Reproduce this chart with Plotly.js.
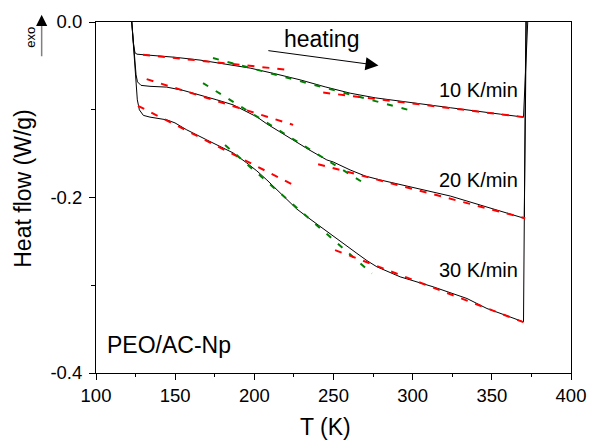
<!DOCTYPE html>
<html>
<head>
<meta charset="utf-8">
<script src="https://cdn.plot.ly/plotly-3.0.1.min.js"></script>
<style>html,body{margin:0;padding:0;background:#fff;}</style>
</head>
<body>
<div id="chart" style="width:590px;height:442px;"></div>
<script>
// ---- data (T in K, heat flow in W/g) ----
const curve10T = [122.6, 123.6, 124.6, 125.9, 134.1, 149.9, 165.7, 181.5, 197.3, 213.1, 228.9, 244.7, 260.5, 276.3, 292.1, 323.7, 355.3, 370.0, 372.8];
const curve10H = [0.0, -0.0240, -0.0350, -0.0367, -0.0379, -0.0402, -0.0434, -0.0476, -0.0525, -0.0590, -0.0659, -0.0739, -0.0811, -0.0864, -0.0903, -0.0977, -0.1050, -0.1084, 0.005];

const curve20T = [122.6, 123.6, 124.6, 125.3, 126.2, 128.4, 134.1, 144.7, 155.0, 165.7, 176.3, 186.6, 195.2, 201.6, 207.9, 218.2, 228.9, 235.2, 245.8, 249.8, 260.5, 270.0, 279.5, 292.1, 313.0, 323.7, 342.7, 355.3, 370.5, 371.8];
const curve20H = [0.0, -0.0240, -0.0430, -0.0602, -0.0682, -0.0722, -0.0733, -0.0742, -0.0779, -0.0830, -0.0887, -0.0944, -0.1021, -0.1081, -0.1161, -0.1275, -0.1401, -0.1463, -0.1572, -0.1595, -0.1686, -0.1755, -0.1800, -0.1852, -0.1934, -0.1983, -0.2086, -0.2154, -0.2237, 0.005];

const curve30T = [122.6, 123.6, 124.6, 125.3, 126.1, 127.4, 129.9, 134.1, 140.4, 144.7, 149.9, 157.3, 170.0, 178.4, 186.6, 195.2, 201.6, 207.9, 214.2, 220.5, 226.8, 233.2, 241.6, 249.8, 257.4, 264.8, 271.1, 277.4, 292.1, 313.0, 334.3, 346.9, 358.5, 370.0, 371.5];
const curve30H = [0.0, -0.0240, -0.0430, -0.0602, -0.0887, -0.1001, -0.1064, -0.1084, -0.1098, -0.1115, -0.1150, -0.1229, -0.1344, -0.1418, -0.1492, -0.1606, -0.1697, -0.1800, -0.1914, -0.2029, -0.2131, -0.2219, -0.2331, -0.2447, -0.2548, -0.2637, -0.2719, -0.2790, -0.2904, -0.3018, -0.3151, -0.3265, -0.3341, -0.3418, 0.005];

// tangent (onset) lines
const fit10RedAT = [129.7, 221.3], fit10RedAH = [-0.0373, -0.0545];
const fit10GreenT = [173.9, 297.2], fit10GreenH = [-0.0411, -0.1001];
const fit10RedBT = [243.5, 370.0], fit10RedBH = [-0.0804, -0.1084];
const fit20RedAT = [132.0, 224.5], fit20RedAH = [-0.0651, -0.1172];
const fit20GreenT = [167.6, 271.1], fit20GreenH = [-0.0696, -0.1857];
const fit20RedBT = [240.3, 371.1], fit20RedBH = [-0.1621, -0.2237];
const fit30RedAT = [126.5, 226.8], fit30RedAH = [-0.0955, -0.1877];
const fit30GreenT = [181.5, 274.2], fit30GreenH = [-0.1401, -0.2865];
const fit30RedBT = [251.0, 369.9], fit30RedBH = [-0.2599, -0.3421];

const xTicks = [100, 150, 200, 250, 300, 350, 400];
const yTicks = [0.0, -0.2, -0.4];
const yTickText = ['0.0', '-0.2', '-0.4'];
const rateLabels = ['10 K/min', '20 K/min', '30 K/min'];
const rateLabelH = [-0.0779, -0.1798, -0.2825];

const FONT = 'Liberation Sans, Arial, Helvetica, sans-serif';

function curve(x, y) {
  return {x: x, y: y, type: 'scatter', mode: 'lines', line: {color: '#000000', width: 1}, hoverinfo: 'skip'};
}
function fit(x, y, color, dash) {
  return {x: x, y: y, type: 'scatter', mode: 'lines', line: {color: color, width: 2, dash: dash}, hoverinfo: 'skip'};
}
const RED = '#ff0000', GREEN = '#008000';
const RDASH = '7px,8px', GDASH = '6px,9px';

const traces = [
  curve(curve10T, curve10H), curve(curve20T, curve20H), curve(curve30T, curve30H),
  fit(fit10RedAT, fit10RedAH, RED, RDASH), fit(fit10GreenT, fit10GreenH, GREEN, GDASH), fit(fit10RedBT, fit10RedBH, RED, RDASH),
  fit(fit20RedAT, fit20RedAH, RED, RDASH), fit(fit20GreenT, fit20GreenH, GREEN, GDASH), fit(fit20RedBT, fit20RedBH, RED, RDASH),
  fit(fit30RedAT, fit30RedAH, RED, RDASH), fit(fit30GreenT, fit30GreenH, GREEN, GDASH), fit(fit30RedBT, fit30RedBH, RED, RDASH)
];

const annotations = [];
rateLabels.forEach(function (t, i) {
  annotations.push({x: 368.0, y: rateLabelH[i], xref: 'x', yref: 'y', text: t, showarrow: false,
    xanchor: 'right', yanchor: 'middle', font: {family: FONT, size: 20, color: '#000'}});
});
annotations.push({x: 217.5, y: -0.0195, xref: 'x', yref: 'y', text: 'heating', showarrow: false,
  xanchor: 'left', yanchor: 'middle', font: {family: FONT, size: 23, color: '#000'}});
annotations.push({x: 278.4, y: -0.0495, ax: 207.9, ay: -0.0324, xref: 'x', yref: 'y', axref: 'x', ayref: 'y',
  text: '', showarrow: true, arrowhead: 2, arrowsize: 2.6, arrowwidth: 1, arrowcolor: '#000'});
annotations.push({x: 105.7, y: -0.3676, xref: 'x', yref: 'y', text: 'PEO/AC-Np', showarrow: false,
  xanchor: 'left', yanchor: 'middle', font: {family: FONT, size: 23, color: '#000'}});
// exo indicator
annotations.push({x: -0.138, y: 0.9566, xref: 'paper', yref: 'paper', text: 'exo', textangle: -90, showarrow: false,
  xanchor: 'center', yanchor: 'middle', font: {family: FONT, size: 13, color: '#000'}});
annotations.push({x: -0.1144, y: 0.992, xref: 'paper', yref: 'paper', ax: 0, ay: 33, text: '', showarrow: true,
  arrowhead: 0, arrowwidth: 1.5, arrowcolor: '#808080'});
annotations.push({x: -0.1144, y: 1.0208, xref: 'paper', yref: 'paper', ax: 0, ay: 11, text: '', showarrow: true,
  arrowhead: 2, arrowsize: 1.5, arrowwidth: 1.5, arrowcolor: '#000'});
// axis titles
annotations.push({x: -0.1527, y: 0.5263, xref: 'paper', yref: 'paper', text: 'Heat flow (W/g)', textangle: -90, showarrow: false,
  xanchor: 'center', yanchor: 'middle', font: {family: FONT, size: 23, color: '#000'}});
annotations.push({x: 0.4841, y: -0.155, xref: 'paper', yref: 'paper', text: 'T (K)', showarrow: false,
  xanchor: 'center', yanchor: 'middle', font: {family: FONT, size: 23, color: '#000'}});

const layout = {
  width: 590, height: 442,
  margin: {l: 96, r: 19, t: 22, b: 69, pad: 0},
  paper_bgcolor: '#ffffff', plot_bgcolor: '#ffffff',
  showlegend: false,
  font: {family: FONT, color: '#000'},
  xaxis: {
    range: [100, 400], tickmode: 'array', tickvals: xTicks, ticktext: xTicks.map(String),
    ticks: 'outside', ticklen: 6, tickwidth: 1, tickcolor: '#000',
    showline: true, linecolor: '#000', linewidth: 1, mirror: true,
    showgrid: false, zeroline: false,
    tickfont: {family: FONT, size: 18.5, color: '#000'},
    minor: {tickmode: 'linear', tick0: 125, dtick: 50, ticks: 'outside', ticklen: 3, tickwidth: 1, tickcolor: '#000', showgrid: false}
  },
  yaxis: {
    range: [-0.4, 0], tickmode: 'array', tickvals: yTicks, ticktext: yTickText,
    ticks: 'outside', ticklen: 6, tickwidth: 1, tickcolor: '#000',
    showline: true, linecolor: '#000', linewidth: 1, mirror: true,
    showgrid: false, zeroline: false, ticklabelstandoff: 3,
    tickfont: {family: FONT, size: 18.5, color: '#000'},
    minor: {tickmode: 'linear', tick0: -0.1, dtick: 0.2, ticks: 'outside', ticklen: 4, tickwidth: 1, tickcolor: '#000', showgrid: false}
  },
  annotations: annotations
};

Plotly.newPlot('chart', traces, layout, {staticPlot: true, displayModeBar: false});
</script>
</body>
</html>
